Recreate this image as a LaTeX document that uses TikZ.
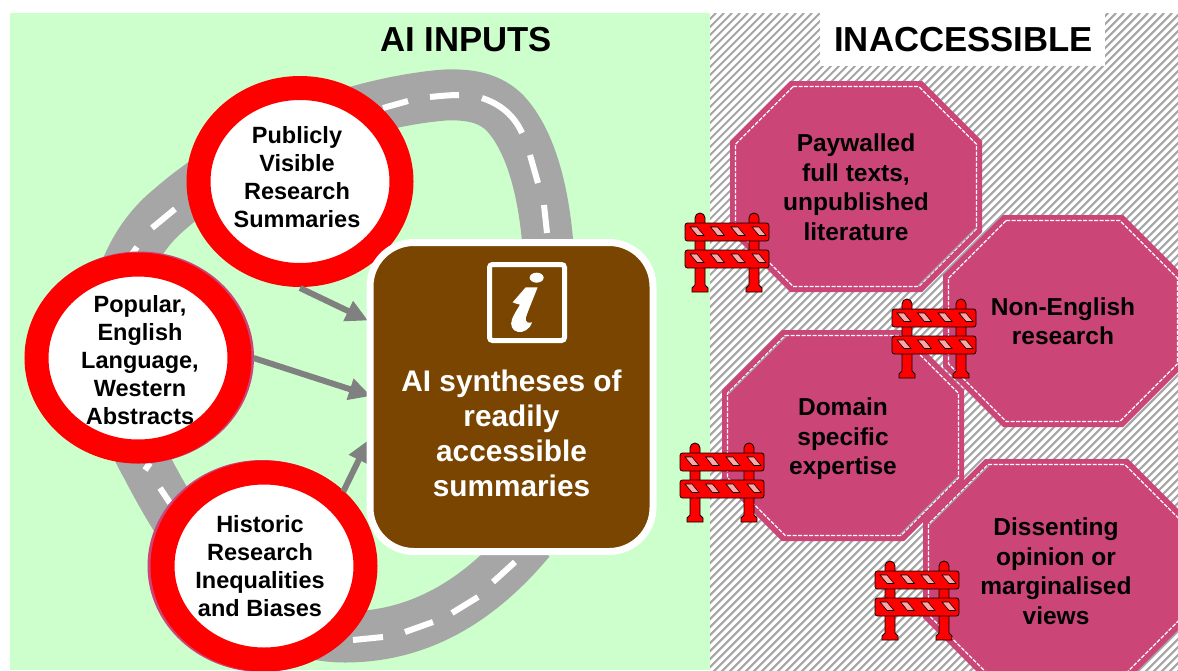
\documentclass[tikz,border=0pt]{standalone}
\usepackage{fontspec}
\setmainfont{Liberation Sans}
\usetikzlibrary{arrows.meta,shapes.geometric,calc}
\definecolor{bggreen}{HTML}{CCFFCC}
\definecolor{hatchgray}{HTML}{A6A6A6}
\definecolor{roadgray}{HTML}{A6A6A6}
\definecolor{arrowgray}{HTML}{808080}
\definecolor{octpink}{HTML}{CB4677}
\definecolor{signbrown}{HTML}{794500}
\tikzset{
  ring/.style={ellipse,draw=red,line width=24pt,fill=white,minimum width=203pt,minimum height=187pt,inner sep=0pt,outer sep=0pt},
  ringtext/.style={align=center,text=black,inner sep=0pt,font=\bfseries\fontsize{23.5}{28}\selectfont},
  ringrim/.style={ellipse,fill=octpink,minimum width=229pt,minimum height=212pt,inner sep=0pt,outer sep=0pt},
  feed/.style={draw=arrowgray,line width=6pt,-{Triangle[length=22pt,width=21pt]}},
  octtext/.style={align=center,text=black,font=\bfseries\fontsize{24.5}{29.5}\selectfont},
  heading/.style={text=black,font=\bfseries\fontsize{34.7}{40}\selectfont,inner sep=0pt},
  dashmark/.style={draw=white,line width=6pt},
  glint/.style={draw=hatchgray,line width=1.2pt},
  barrierpart/.style={draw=black,line width=.8pt,fill=red},
  barrierhole/.style={draw=black,line width=.6pt,fill=white,fill opacity=.65},
  barrier/.pic={
    \foreach \px in {15,69}{
      \path[barrierpart] (\px-5,72) [rounded corners=4.9pt] -- (\px-5,0) -- (\px+5,0) [sharp corners] -- (\px+5,72) -- (\px+8,75) -- (\px+8,79) -- (\px-8,79) -- (\px-8,75) -- cycle;
    }
    \foreach \by in {10,37}{
      \path[barrierpart,rounded corners=2.5pt] (0,\by) rectangle (84,\by+18);
      \foreach \hx in {5,25.5,46,67}{
        \path[barrierhole] (\hx,\by+4) -- (\hx+7,\by+4) -- (\hx+14,\by+12.5) -- (\hx+7,\by+12.5) -- cycle;
      }
    }
  }
}
\newcommand{\octa}[5]{% x1 x2 y1 y2 chamfer
  \fill[octpink] (#1+#5,#3) -- (#2-#5,#3) -- (#2,#3+#5) -- (#2,#4-#5) -- (#2-#5,#4) -- (#1+#5,#4) -- (#1,#4-#5) -- (#1,#3+#5) -- cycle;
  \draw[white,line width=1.3pt,dash pattern=on 4pt off 1.5pt] (#1+5.5+#5-2.3,#3+5.5) -- (#2-5.5-#5+2.3,#3+5.5) -- (#2-5.5,#3+5.5+#5-2.3) -- (#2-5.5,#4-5.5-#5+2.3) -- (#2-5.5-#5+2.3,#4-5.5) -- (#1+5.5+#5-2.3,#4-5.5) -- (#1+5.5,#4-5.5-#5+2.3) -- (#1+5.5,#3+5.5+#5-2.3) -- cycle;
}
\begin{document}
\begin{tikzpicture}[x=1pt,y=-1pt]
\useasboundingbox (0,0) rectangle (1178,670);
\clip (0,0) rectangle (1178,670);
\fill[white] (0,0) rectangle (1178,670);
\fill[bggreen] (10,13) rectangle (710,670);
% hatched panel
\begin{scope}
  \clip (710,13) rectangle (1178,670);
  \foreach \k in {0,...,145}{
    \draw[hatchgray,line width=2.1pt] (700+8*\k,13) -- ++(-670,670);
  }
\end{scope}
% road
\draw[roadgray,line width=51pt,line cap=butt] (549,260) .. controls (545,190) and (530,140) .. (505,113) .. controls (490,98) and (470,94) .. (445,95) .. controls (380,100) and (260,130) .. (170,209) .. controls (105,262) and (92,370) .. (147,467) .. controls (190,550) and (250,637) .. (345,637) .. controls (420,637) and (480,600) .. (530,540);
\draw[dashmark] (547,233) -- (544,205);
\draw[dashmark] (538,183) -- (530,155);
\draw[dashmark] (522,133) .. controls (514,115) and (500,104) .. (482,98);
\draw[dashmark] (459,95) .. controls (450,95) and (440,96) .. (430,97);
\draw[dashmark] (408,101) -- (383,108);
\draw[dashmark] (175,209) -- (152,228);
\draw[dashmark] (137,247) -- (130,257);
\draw[dashmark] (150,463) -- (145,470);
\draw[dashmark] (160,488) -- (170,503);
\draw[dashmark] (353,640) -- (383,637);
\draw[dashmark] (405,632) -- (433,622);
\draw[dashmark] (452,613) -- (478,597);
\draw[dashmark] (493,582) -- (515,562);
% circle rims
\node[ringrim] (poprim) at (139.5,357.5) {};
\node[ringrim] (hisrim) at (262,566) {};
% named points on the sign where the arrows land
\coordinate (t1) at (368,320.5);
\coordinate (t2) at (371,396);
\coordinate (t3) at (368.5,440);
% circles
\node[ring] (pub) at (300,181.5) {};
\node[ring] (pop) at (138,358) {};
\node[ring] (his) at (264,566) {};
\node[ringtext] (pubt) at (297,177) {Publicly\\Visible\\Research\\Summaries};
\node[ringtext] (popt) at (140,360) {Popular,\\English\\Language,\\Western\\Abstracts};
\node[ringtext] (hist) at (260,566) {Historic\\Research\\Inequalities\\and Biases};
% arrows
\draw[feed] ($(pub.270)+(0,13)$) -- (t1);
\draw[feed] ($(pop.0)+(14,0)$) -- (t2);
\draw[feed] ($(his.43)+(8,-8)$) -- (t3);
% sign
\node[draw=white,line width=7pt,fill=signbrown,rounded corners=44pt,minimum width=283pt,minimum height=309pt,inner sep=0pt,outer sep=0pt,align=center,text=white,font=\bfseries\fontsize{29.8}{35}\selectfont] (sign) at (511.5,397) {\rule{0pt}{94pt}AI syntheses of\\readily\\accessible\\summaries};
% information icon
\draw[white,line width=5pt,rounded corners=3pt] (489.5,264.5) rectangle (564.5,340.5);
\begin{scope}[shift={(360,230)},x=.3333pt,y=-.3333pt]
  \fill[white] (530,143) ellipse[x radius=21,y radius=15];
  \fill[white] (497,172) -- (533,172) .. controls (520,205) and (505,240) .. (498,262) .. controls (495,278) and (505,280) .. (516,277) .. controls (510,298) and (490,308) .. (475,306) .. controls (455,302) and (450,285) .. (456,268) .. controls (462,252) and (472,238) .. (480,224) .. controls (472,222) and (465,220) .. (458,217) -- cycle;
\end{scope}
% headings
\node[heading] (hl) at (466,40) {AI INPUTS};
\fill[white] (820,13) rectangle (1105,66);
\node[heading] (hr) at (963.5,40) {INACCESSIBLE};
% octagons
\octa{730}{982}{81}{292}{60}
\octa{943}{1183}{215}{427}{60}
\octa{722}{964}{330}{541}{60}
\octa{923}{1190}{459}{680}{62}
\draw[glint] (918.2,285.7) -- (975.7,228.2);
\draw[glint] (900,534.7) -- (957.7,477);
\draw[glint] (728.3,394) -- (786,336.3);
\draw[glint] (929.3,525) -- (989,465.3);
\node[octtext] (o1) at (856,187) {Paywalled\\full texts,\\unpublished\\literature};
\node[octtext] (o2) at (1063,321) {Non-English\\research};
\node[octtext] (o3) at (843,439) {Domain\\specific\\expertise};
\node[octtext] (o4) at (1056,571) {Dissenting\\opinion or\\marginalised\\views};
% barriers
\pic at (685,213) {barrier};
\pic at (892,299) {barrier};
\pic at (680,443) {barrier};
\pic at (875,561) {barrier};
\end{tikzpicture}
\end{document}
